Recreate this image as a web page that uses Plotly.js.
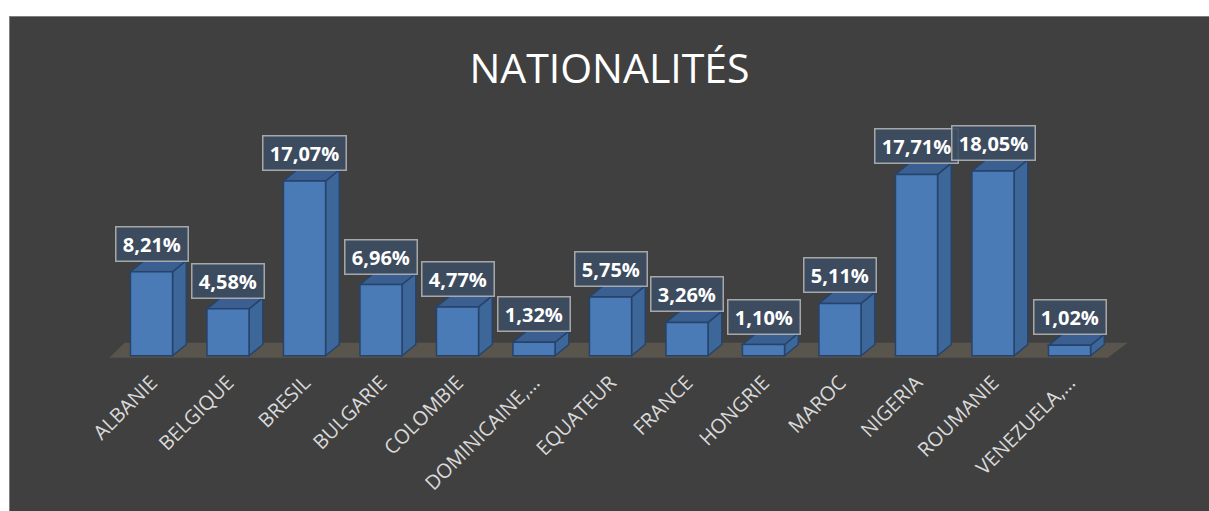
<!DOCTYPE html>
<html>
<head>
<meta charset="utf-8">
<script src="https://cdn.plot.ly/plotly-3.0.1.min.js"></script>
<style>
  html, body { margin: 0; padding: 0; background: #ffffff; width: 1209px; height: 511px; overflow: hidden; }
  #frame { position: absolute; left: 9px; top: 16px; width: 1200px; height: 495px; box-sizing: border-box;
           border-top: 1px solid #7f7f7f; border-left: 1px solid #7f7f7f; background: #404040; }
  #chart { width: 1199px; height: 494px; }
</style>
</head>
<body>
<div id="frame"><div id="chart"></div></div>
<script>
// ---- data ----
const categories = ["ALBANIE", "BELGIQUE", "BRESIL", "BULGARIE", "COLOMBIE", "DOMINICAINE,…", "EQUATEUR",
                    "FRANCE", "HONGRIE", "MAROC", "NIGERIA", "ROUMANIE", "VENEZUELA,…"];
const values = [8.21, 4.58, 17.07, 6.96, 4.77, 1.32, 5.75, 3.26, 1.10, 5.11, 17.71, 18.05, 1.02];
const labels = values.map(v => v.toFixed(2).replace('.', ',') + '%');

// ---- 3D styling ----
const xs = categories.map((c, i) => i);
const halfW = 0.275;   // half width of front face (category units)
const dx = 0.18;       // depth offset in x (category units)
const dy = 1.1;        // depth offset in y (value units)

const shapes = [];
// floor
shapes.push({
  type: 'path', xref: 'x', yref: 'y', layer: 'below',
  path: 'M -0.55,-0.2 L 12.5,-0.2 L 12.76,1.27 L -0.35,1.27 Z',
  fillcolor: '#59554d', line: { width: 0 }
});
xs.forEach((x, i) => {
  const v = values[i];
  const r = x + halfW, l = x - halfW;
  // side face
  shapes.push({
    type: 'path', xref: 'x', yref: 'y', layer: 'below',
    path: `M ${r},0 L ${r + dx},${dy} L ${r + dx},${v + dy} L ${r},${v} Z`,
    fillcolor: '#3d6699', line: { color: '#26436b', width: 1.5 }
  });
  // top face
  shapes.push({
    type: 'path', xref: 'x', yref: 'y', layer: 'below',
    path: `M ${l},${v} L ${l + dx},${v + dy} L ${r + dx},${v + dy} L ${r},${v} Z`,
    fillcolor: '#3a5f90', line: { color: '#26436b', width: 1.5 }
  });
});

const annotations = xs.map((x, i) => ({
  x: x, y: values[i], xref: 'x', yref: 'y',
  text: '\u2009<b>' + labels[i] + '</b>\u2009', showarrow: false,
  xanchor: 'center', yanchor: 'bottom', yshift: 10,
  font: { family: 'Open Sans', size: 20, color: '#ffffff' },
  bgcolor: 'rgba(60,76,98,0.88)', bordercolor: 'rgba(185,185,185,0.85)', borderwidth: 1.5, borderpad: 3
}));

const trace = {
  type: 'bar', x: xs, y: values, width: 0.55,
  marker: { color: '#4a7bb7', line: { color: '#26436b', width: 1.5 } },
  hoverinfo: 'skip'
};

const layout = {
  width: 1199, height: 494,
  paper_bgcolor: '#404040', plot_bgcolor: 'rgba(0,0,0,0)',
  margin: { l: 65, r: 63, t: 134, b: 145 },
  showlegend: false,
  title: { text: 'NATIONALITÉS', font: { family: 'Open Sans', size: 41, color: '#ffffff' },
           x: 0.5, xanchor: 'center', yref: 'container', y: 0.895, yanchor: 'middle' },
  xaxis: { range: [-1, 13], tickvals: xs, ticktext: categories, tickangle: -45,
           showgrid: false, zeroline: false, showline: false, ticks: '',
           tickfont: { family: 'Open Sans', size: 20, color: '#d9d9d9' }, fixedrange: true },
  yaxis: { range: [-1, 20], showgrid: false, zeroline: false, showline: false, showticklabels: false,
           ticks: '', fixedrange: true },
  shapes: shapes,
  annotations: annotations
};

Plotly.newPlot('chart', [trace], layout, { displayModeBar: false, staticPlot: true });
</script>
</body>
</html>
